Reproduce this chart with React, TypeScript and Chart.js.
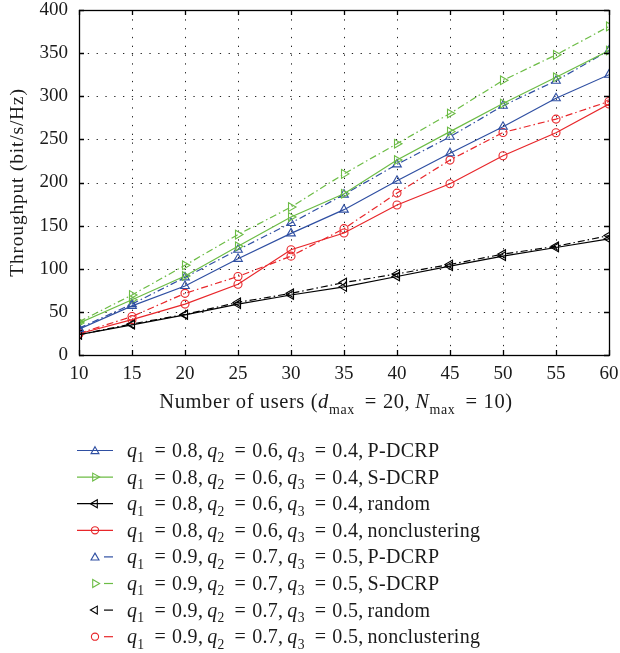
import React, { useEffect, useRef } from "react";
import { Chart, registerables } from "chart.js";

Chart.register(...registerables);

const users = [10, 15, 20, 25, 30, 35, 40, 45, 50, 55, 60];
const pdcrpA = [30, 57, 80, 111.5, 141, 168.5, 202, 234, 264.6, 297.7, 325];
const sdcrpA = [37, 64, 91.5, 126, 160, 187, 226, 259, 291.5, 322, 353];
const randomA = [23.5, 35, 46.5, 59, 69.6, 79, 91, 103, 114.6, 124.6, 134.6];
const noncluA = [24.6, 41, 59, 82, 122, 141.5, 174, 198.5, 231, 257.7, 291];
const pdcrpB = [31, 59, 90, 122, 153, 186, 221, 253, 289, 318, 353];
const sdcrpB = [38.5, 69.6, 104, 139.6, 171.5, 210, 245, 280, 318.5, 348, 381];
const randomB = [23.5, 36, 47, 61, 71.5, 84, 94, 105, 117, 126, 138.5];
const noncluB = [25, 44.6, 71.5, 91, 114.6, 146.5, 187.7, 226, 258, 273.5, 294];

const yTicks = [0, 50, 100, 150, 200, 250, 300, 350, 400];
const xTicks = [10, 15, 20, 25, 30, 35, 40, 45, 50, 55, 60];

const paramsA = ["0.8", "0.6", "0.4"];
const paramsB = ["0.9", "0.7", "0.5"];
const schemes = ["P-DCRP", "S-DCRP", "random", "nonclustering"];

const BLUE = "#2f4fa2";
const GREEN = "#6cbc45";
const BLACK = "#000000";
const RED = "#e8262a";
const DASHDOT = [7, 3, 1.5, 3];
const FONT = "'Liberation Serif', 'Times New Roman', serif";
const TXT = "#1a1a1a";

type Seg = { t: string; i?: boolean; s?: boolean; g?: number };

function drawRich(ctx: CanvasRenderingContext2D, segs: Seg[], x: number, y: number, size: number, align: "left" | "center", ls = 0) {
  const fontOf = (sg: Seg) => `${sg.i ? "italic " : ""}${sg.s ? size * 0.68 : size}px ${FONT}`;
  (ctx as any).letterSpacing = `${ls}px`;
  const w = (sg: Seg) => {
    if (sg.g !== undefined) return sg.g;
    ctx.font = fontOf(sg);
    return ctx.measureText(sg.t).width;
  };
  let total = 0;
  for (const sg of segs) total += w(sg);
  let cx = align === "center" ? x - total / 2 : x;
  ctx.textBaseline = "alphabetic";
  ctx.textAlign = "left";
  for (const sg of segs) {
    if (sg.g === undefined) {
      ctx.font = fontOf(sg);
      ctx.fillText(sg.t, cx, sg.s ? y + size * 0.27 : y);
    }
    cx += w(sg);
  }
  (ctx as any).letterSpacing = "0px";
}

function legendSegs(p: string[], name: string): Seg[] {
  const out: Seg[] = [];
  for (let k = 0; k < 3; k++) {
    out.push({ t: "q", i: true }, { t: String(k + 1), s: true }, { t: "", g: 10 }, { t: "=" }, { t: "", g: 6 }, { t: p[k] + "," }, { t: "", g: 4 });
  }
  out.push({ t: name });
  return out;
}

function mk(label: string, data: number[], color: string, style: string, rot: number, dashed: boolean) {
  return {
    label,
    data: users.map((u, k) => ({ x: u, y: data[k] })),
    borderColor: color,
    backgroundColor: "rgba(0,0,0,0)",
    borderWidth: 1.2,
    borderDash: dashed ? DASHDOT : [],
    pointStyle: style,
    pointRotation: rot,
    pointRadius: style === "circle" ? 4 : 5,
    pointBorderWidth: 1.1,
    pointBorderColor: color,
    pointBackgroundColor: "rgba(0,0,0,0)",
    tension: 0,
  } as any;
}

const frame = {
  id: "frame",
  beforeDatasetsDraw(chart: any) {
    const { ctx, chartArea: a, scales } = chart;
    const xs = scales.x, ys = scales.y;
    ctx.save();
    ctx.strokeStyle = "#222";
    ctx.lineWidth = 1;
    ctx.setLineDash([1.3, 7.5]);
    for (const v of xTicks.slice(1, -1)) {
      const px = Math.round(xs.getPixelForValue(v)) + 0.5;
      ctx.beginPath(); ctx.moveTo(px, a.bottom); ctx.lineTo(px, a.top); ctx.stroke();
    }
    for (const v of yTicks.slice(1, -1)) {
      const py = Math.round(ys.getPixelForValue(v)) + 0.5;
      ctx.beginPath(); ctx.moveTo(a.left, py); ctx.lineTo(a.right, py); ctx.stroke();
    }
    ctx.restore();
  },
  afterDatasetsDraw(chart: any) {
    const { ctx, chartArea: a, scales } = chart;
    const xs = scales.x, ys = scales.y;
    ctx.save();
    ctx.strokeStyle = "#000";
    ctx.lineWidth = 1.3;
    ctx.setLineDash([]);
    const tl = 5;
    for (const v of xTicks) {
      const px = Math.round(xs.getPixelForValue(v)) + 0.5;
      ctx.beginPath();
      ctx.moveTo(px, a.bottom); ctx.lineTo(px, a.bottom - tl);
      ctx.moveTo(px, a.top); ctx.lineTo(px, a.top + tl);
      ctx.stroke();
    }
    for (const v of yTicks) {
      const py = Math.round(ys.getPixelForValue(v)) + 0.5;
      ctx.beginPath();
      ctx.moveTo(a.left, py); ctx.lineTo(a.left + tl, py);
      ctx.moveTo(a.right, py); ctx.lineTo(a.right - tl, py);
      ctx.stroke();
    }
    ctx.strokeRect(Math.round(a.left) + 0.5, Math.round(a.top) + 0.5, Math.round(a.right - a.left), Math.round(a.bottom - a.top));

    ctx.fillStyle = TXT;
    // x-axis title
    drawRich(ctx, [
      { t: "Number of users (" },
      { t: "d", i: true }, { t: "max", s: true }, { t: "", g: 10 }, { t: "=" }, { t: "", g: 6 }, { t: "20," }, { t: "", g: 5 },
      { t: "N", i: true }, { t: "max", s: true }, { t: "", g: 10 }, { t: "=" }, { t: "", g: 6 }, { t: "10)" },
    ], (a.left + a.right) / 2 - 8, 408, 20.5, "center", 0.6);

    // y-axis title
    ctx.save();
    ctx.translate(23, (a.top + a.bottom) / 2);
    ctx.rotate(-Math.PI / 2);
    ctx.font = `19.5px ${FONT}`;
    (ctx as any).letterSpacing = "0.8px";
    ctx.textAlign = "center";
    ctx.textBaseline = "alphabetic";
    ctx.fillText("Throughput (bit/s/Hz)", 0, 0);
    (ctx as any).letterSpacing = "0px";
    ctx.restore();

    // legend
    const ds = chart.data.datasets;
    for (let k = 0; k < ds.length; k++) {
      const d = ds[k];
      const cy = 450.5 + k * 26.6;
      const dashed = k >= 4;
      ctx.strokeStyle = d.borderColor;
      ctx.lineWidth = 1.2;
      ctx.beginPath();
      if (dashed) {
        ctx.moveTo(104, cy); ctx.lineTo(113, cy);
      } else {
        ctx.moveTo(77, cy); ctx.lineTo(113, cy);
      }
      ctx.stroke();
      ctx.lineWidth = 1.1;
      const r = d.pointStyle === "circle" ? 3.6 : 4.6;
      ctx.beginPath();
      if (d.pointStyle === "circle") {
        ctx.arc(95, cy, r, 0, Math.PI * 2);
      } else {
        const rot = (d.pointRotation * Math.PI) / 180;
        for (let j = 0; j < 3; j++) {
          const ang = rot + (j * 2 * Math.PI) / 3 - Math.PI / 2;
          const px = 95 + r * Math.cos(ang);
          const py = cy + r * Math.sin(ang) + (d.pointRotation === 0 ? 0.8 : 0);
          if (j === 0) ctx.moveTo(px, py); else ctx.lineTo(px, py);
        }
        ctx.closePath();
      }
      ctx.stroke();
      ctx.fillStyle = TXT;
      drawRich(ctx, legendSegs(k < 4 ? paramsA : paramsB, schemes[k % 4]), 127, cy + 6.5, 20, "left", 0.3);
    }
    ctx.restore();
  },
};

export default function App() {
  const ref = useRef<HTMLCanvasElement | null>(null);
  useEffect(() => {
    document.body.style.margin = "0";
    const canvas = ref.current!;
    const labelsA = schemes.map((s) => `q1 = ${paramsA[0]}, q2 = ${paramsA[1]}, q3 = ${paramsA[2]}, ${s}`);
    const labelsB = schemes.map((s) => `q1 = ${paramsB[0]}, q2 = ${paramsB[1]}, q3 = ${paramsB[2]}, ${s}`);
    const chart = new Chart(canvas, {
      type: "line",
      data: {
        datasets: [
          mk(labelsA[0], pdcrpA, BLUE, "triangle", 0, false),
          mk(labelsA[1], sdcrpA, GREEN, "triangle", 90, false),
          mk(labelsA[2], randomA, BLACK, "triangle", 270, false),
          mk(labelsA[3], noncluA, RED, "circle", 0, false),
          mk(labelsB[0], pdcrpB, BLUE, "triangle", 0, true),
          mk(labelsB[1], sdcrpB, GREEN, "triangle", 90, true),
          mk(labelsB[2], randomB, BLACK, "triangle", 270, true),
          mk(labelsB[3], noncluB, RED, "circle", 0, true),
        ],
      },
      options: {
        responsive: false,
        animation: false,
        devicePixelRatio: 1,
        layout: { padding: { left: 0, top: 10, right: 11, bottom: 0 } },
        plugins: { legend: { display: false }, tooltip: { enabled: false } },
        scales: {
          x: {
            type: "linear",
            min: 10,
            max: 60,
            afterBuildTicks: (s: any) => { s.ticks = xTicks.map((v) => ({ value: v })); },
            afterFit: (s: any) => { s.height = 298; s.paddingLeft = 0; s.paddingRight = 0; },
            grid: { display: false, drawTicks: false },
            border: { display: false },
            ticks: { padding: 8, color: TXT, font: { family: FONT, size: 19 }, maxRotation: 0 },
          },
          y: {
            type: "linear",
            min: 0,
            max: 400,
            afterBuildTicks: (s: any) => { s.ticks = yTicks.map((v) => ({ value: v })); },
            afterFit: (s: any) => { s.width = 79; s.paddingTop = 0; s.paddingBottom = 0; },
            grid: { display: false, drawTicks: false },
            border: { display: false },
            ticks: { padding: 11, color: TXT, font: { family: FONT, size: 19 } },
          },
        },
      },
      plugins: [frame],
    });
    return () => chart.destroy();
  }, []);
  return (
    <div style={{ width: 620, height: 653 }}>
      <canvas ref={ref} width={620} height={653} style={{ display: "block", width: 620, height: 653 }} />
    </div>
  );
}
